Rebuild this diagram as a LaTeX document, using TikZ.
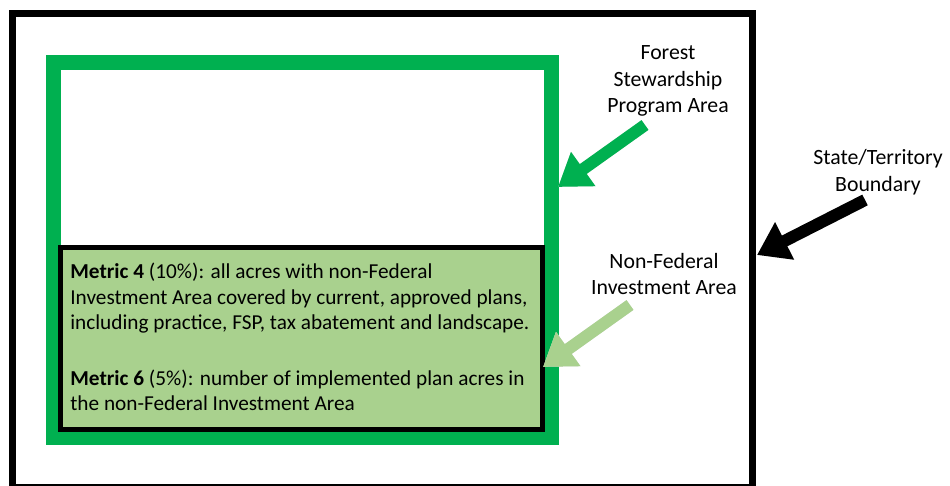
\documentclass[tikz,border=0pt]{standalone}
\usepackage{fontspec}
\setmainfont{Carlito}
\usetikzlibrary{arrows.meta}
\definecolor{fspgreen}{HTML}{00B050}
\definecolor{nfgreen}{HTML}{A9D18E}
\tikzset{
	label text/.style={align=center, inner sep=0, font=\fontsize{12.4}{15.2}\selectfont},
	block arrow/.style={line width=0.24cm, -{Triangle[length=0.62cm, width=0.8cm]}},
	arrow shadow/.style={block arrow, color=black!12, shift={(0.04,-0.05)}},
}

\begin{document}
\begin{tikzpicture}
	%%%%% START %%%%%
	\useasboundingbox (0, 0) rectangle (19, 9.7);

	% state boundary, program area, investment area
	\draw[line width=0.14cm] (0.25, -0.05) rectangle (15.05, 9.43);
	\draw[line width=0.3cm, color=fspgreen] (1.07, 0.95) rectangle (11.03, 8.45);
	\draw[line width=0.1cm, fill=nfgreen] (1.2, 1.12) rectangle (10.84, 4.74);

	\node[anchor=north west, align=left, inner sep=0, font=\fontsize{12.1}{14.5}\selectfont] (metrics) at (1.4, 4.44)
		{\textbf{Metric 4} (10\%): all acres with non-Federal\\
		Investment Area covered by current, approved plans,\\
		including practice, FSP, tax abatement and landscape.\\[17pt]
		\textbf{Metric 6} (5\%): number of implemented plan acres in\\
		the non-Federal Investment Area};

	% callouts
	\node[label text] (fsp) at (13.36, 8.08) {Forest\\Stewardship\\Program Area};
	\node[label text] (state) at (17.56, 6.25) {State/Territory\\Boundary};
	\node[label text] (nonfed) at (13.28, 4.22) {Non-Federal\\Investment Area};

	\coordinate (fsp tail) at (12.9, 7.2);
	\coordinate (fsp tip) at (11.16, 5.96);
	\coordinate (nonfed tail) at (12.6, 3.6);
	\coordinate (nonfed tip) at (10.86, 2.36);
	\coordinate (state tail) at (17.3, 5.7);
	\coordinate (state tip) at (15.14, 4.6);

	\draw[arrow shadow] (fsp tail) -- (fsp tip);
	\draw[arrow shadow] (nonfed tail) -- (nonfed tip);
	\draw[arrow shadow] (state tail) -- (state tip);

	\draw[block arrow, color=fspgreen] (fsp tail) -- (fsp tip);
	\draw[block arrow, color=nfgreen] (nonfed tail) -- (nonfed tip);
	\draw[block arrow] (state tail) -- (state tip);

	%%%%% END %%%%%
\end{tikzpicture}
\end{document}
